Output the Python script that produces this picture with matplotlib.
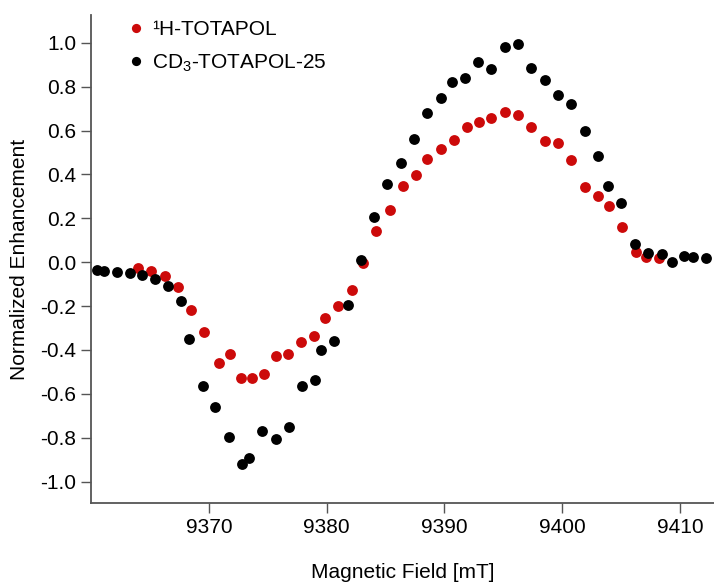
import numpy as np
import matplotlib
matplotlib.use("Agg")
import matplotlib.pyplot as plt

plt.rcParams['font.family'] = ['Liberation Sans', 'DejaVu Sans']
plt.rcParams['mathtext.fontset'] = 'custom'
plt.rcParams['mathtext.rm'] = 'Liberation Sans'
plt.rcParams['mathtext.it'] = 'Liberation Sans'

# 1H-TOTAPOL
field_h = [9363.97, 9365.09, 9366.24, 9367.34, 9368.50, 9369.61, 9370.85, 9371.78,
           9372.72, 9373.65, 9374.71, 9375.73, 9376.69, 9377.79, 9378.96, 9379.89,
           9380.98, 9382.15, 9383.09, 9384.22, 9385.36, 9386.49, 9387.62, 9388.56,
           9389.69, 9390.82, 9391.95, 9392.91, 9393.99, 9395.12, 9396.25, 9397.39,
           9398.52, 9399.65, 9400.79, 9401.92, 9403.05, 9403.98, 9405.12, 9406.25,
           9407.10, 9408.21]
enh_h = [-0.028, -0.039, -0.064, -0.115, -0.218, -0.317, -0.461, -0.420,
         -0.529, -0.529, -0.509, -0.426, -0.420, -0.365, -0.336, -0.256,
         -0.200, -0.127, -0.004, 0.142, 0.238, 0.347, 0.396, 0.469,
         0.517, 0.557, 0.617, 0.640, 0.656, 0.683, 0.671, 0.617,
         0.551, 0.545, 0.466, 0.344, 0.303, 0.257, 0.162, 0.048,
         0.025, 0.018]

# CD3-TOTAPOL-25
field_d = [9360.48, 9361.11, 9362.20, 9363.29, 9364.28, 9365.40, 9366.52, 9367.66,
           9368.30, 9369.46, 9370.54, 9371.70, 9372.84, 9373.43, 9374.54, 9375.67,
           9376.77, 9377.90, 9379.04, 9379.53, 9380.62, 9381.81, 9382.87, 9384.02,
           9385.15, 9386.29, 9387.42, 9388.56, 9389.69, 9390.65, 9391.72, 9392.89,
           9393.99, 9395.12, 9396.25, 9397.39, 9398.52, 9399.65, 9400.79, 9401.92,
           9403.07, 9403.91, 9404.98, 9406.17, 9407.30, 9408.44, 9409.29, 9410.36,
           9411.13, 9412.26]
enh_d = [-0.036, -0.041, -0.043, -0.048, -0.058, -0.075, -0.110, -0.177,
         -0.351, -0.563, -0.658, -0.795, -0.919, -0.891, -0.768, -0.807,
         -0.752, -0.563, -0.537, -0.400, -0.359, -0.194, 0.010, 0.204,
         0.355, 0.451, 0.560, 0.678, 0.749, 0.821, 0.838, 0.912,
         0.883, 0.982, 0.994, 0.886, 0.829, 0.762, 0.721, 0.598,
         0.484, 0.347, 0.272, 0.082, 0.041, 0.037, 0.002, 0.028,
         0.022, 0.019]

labels = ['\u00b9H-TOTAPOL', r'CD$_{3}$-TOTAPOL-25']
xticks = [9370, 9380, 9390, 9400, 9410]
yticks = [-1.0, -0.8, -0.6, -0.4, -0.2, 0.0, 0.2, 0.4, 0.6, 0.8, 1.0]
ytick_labels = ['-1.0', '-0.8', '-0.6', '-0.4', '-0.2', '0.0',
                '0.2', '0.4', '0.6', '0.8', '1.0']

fig = plt.figure(figsize=(7.14, 5.85), dpi=100)
ax = fig.add_axes([0.1279, 0.1407, 0.8721, 0.8333])

ax.plot(field_h, enh_h, 'o', color='#cc0a0a', ms=7.8, mec='none', label=labels[0])
ax.plot(field_d, enh_d, 'o', color='black', ms=7.8, mec='none', label=labels[1])

ax.set_xlim(9360, 9412.9)
ax.set_ylim(-1.096, 1.126)
ax.set_xticks(xticks)
ax.set_yticks(yticks)
ax.set_yticklabels(ytick_labels)

for s in ['top', 'right']:
    ax.spines[s].set_visible(False)
for s in ['left', 'bottom']:
    ax.spines[s].set_color('#555555')
    ax.spines[s].set_linewidth(1.3)
ax.tick_params(direction='out', length=7, width=1, color='#555555',
               labelsize=15, pad=4)

ax.set_xlabel('Magnetic Field [mT]', fontsize=15, labelpad=19)
ax.set_ylabel('Normalized Enhancement', fontsize=15, labelpad=8)

ax.legend(loc='upper left', bbox_to_anchor=(0.062, 0.99), frameon=False,
          numpoints=1, fontsize=15, handlelength=0.6, handletextpad=0.45,
          labelspacing=0.65, borderpad=0, borderaxespad=0, markerscale=0.85)

fig.savefig('out.png', dpi=100)
